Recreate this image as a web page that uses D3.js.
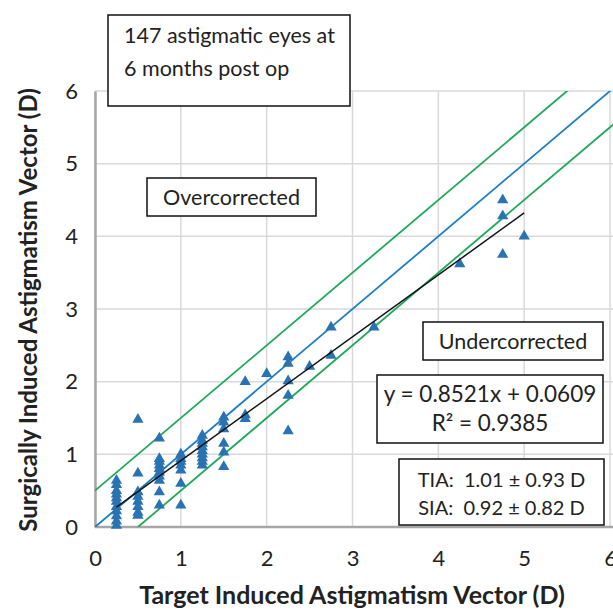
<!DOCTYPE html>
<html>
<head>
<meta charset="utf-8">
<script src="https://cdn.jsdelivr.net/npm/d3@7"></script>
<style>
  body { margin: 0; background: #fff; }
  text { font-family: Lato, "Open Sans", sans-serif; white-space: pre; }
</style>
</head>
<body>
<div id="chart"></div>
<script>
// TIA (x) and SIA (y) per eye
var tia = [
  0.25,0.25,0.25,0.25,0.25,0.25,0.25,0.25,0.25,0.25,0.25,
  0.5,0.5,0.5,0.5,0.5,0.5,0.5,0.5,
  0.75,0.75,0.75,0.75,0.75,0.75,0.75,0.75,0.75,0.75,
  1,1,1,1,1,1,1,
  1.25,1.25,1.25,1.25,1.25,1.25,1.25,1.25,1.25,
  1.5,1.5,1.5,1.5,1.5,1.5,
  1.75,1.75,1.75,
  2,
  2.25,2.25,2.25,2.25,2.25,
  2.5,
  2.75,2.75,
  3.25,
  4.25,
  4.75,4.75,4.75,
  5
];
var sia = [
  0.64,0.58,0.5,0.45,0.4,0.35,0.28,0.22,0.15,0.08,0.02,
  1.48,0.74,0.48,0.42,0.35,0.28,0.2,0.16,
  1.22,0.94,0.9,0.85,0.8,0.75,0.7,0.64,0.48,0.3,
  1.0,0.94,0.9,0.85,0.78,0.6,0.3,
  1.26,1.19,1.15,1.1,1.05,1.0,0.95,0.9,0.85,
  1.51,1.44,1.35,1.15,1.03,0.83,
  2.0,1.54,1.49,
  2.11,
  2.34,2.25,2.01,1.81,1.32,
  2.21,
  2.75,2.36,
  2.75,
  3.62,
  4.5,4.28,3.75,
  4.0
];
var ticks = [0, 1, 2, 3, 4, 5, 6];
var slope = 0.8521, intercept = 0.0609;
var fitRange = [0.25, 5];
var band = 0.5;

var W = 613, H = 611;
var svg = d3.select("#chart").append("svg")
    .attr("width", W).attr("height", H);

var xScale = d3.scaleLinear().domain([0, 6]).range([95, 610]);
var yScale = d3.scaleLinear().domain([0, 6]).range([527, 91]);

// grid
svg.append("g").selectAll("line").data(ticks).enter().append("line")
   .attr("x1", function(d) { return xScale(d); })
   .attr("x2", function(d) { return xScale(d); })
   .attr("y1", yScale(0)).attr("y2", yScale(6))
   .attr("stroke", "#d9d9d9").attr("stroke-width", 1.5);
svg.append("g").selectAll("line").data(ticks).enter().append("line")
   .attr("y1", function(d) { return yScale(d); })
   .attr("y2", function(d) { return yScale(d); })
   .attr("x1", xScale(0)).attr("x2", W)
   .attr("stroke", "#d9d9d9").attr("stroke-width", 1.5);

// axes
var xAxis = svg.append("g")
   .attr("transform", "translate(0," + yScale(0) + ")")
   .call(d3.axisBottom(xScale).tickValues(ticks).tickFormat(d3.format("d")).tickSize(0).tickPadding(23));
var yAxis = svg.append("g")
   .attr("transform", "translate(" + xScale(0) + ",0)")
   .call(d3.axisLeft(yScale).tickValues(ticks).tickFormat(d3.format("d")).tickSize(0).tickPadding(17));
[xAxis, yAxis].forEach(function(a) {
  a.select(".domain").attr("stroke", "#a6a6a6").attr("stroke-width", 2.5);
  a.selectAll("text").style("font-size", "22px").attr("fill", "#222")
   .style("font-family", "Lato, sans-serif");
});
xAxis.select(".domain").attr("d", "M" + xScale(0) + ",0H" + W);

// reference lines: y = x, y = x +/- 0.5
var line = d3.line().x(function(d) { return xScale(d[0]); }).y(function(d) { return yScale(d[1]); });
svg.append("clipPath").attr("id", "plot").append("rect")
   .attr("x", xScale(0)).attr("y", yScale(6)).attr("width", W - xScale(0)).attr("height", yScale(0) - yScale(6));
var lines = svg.append("g").attr("clip-path", "url(#plot)");
lines.append("path").attr("d", line([[0, 0], [7, 7]]))
   .attr("stroke", "#1a7fc8").attr("stroke-width", 1.8).attr("fill", "none");
lines.append("path").attr("d", line([[0, band], [7, 7 + band]]))
   .attr("stroke", "#1ea95a").attr("stroke-width", 1.8).attr("fill", "none");
lines.append("path").attr("d", line([[band, 0], [7.5, 7]]))
   .attr("stroke", "#1ea95a").attr("stroke-width", 1.8).attr("fill", "none");

// points
var tri = d3.symbol().type(d3.symbolTriangle).size(55);
svg.append("g").selectAll("path").data(tia).enter().append("path")
   .attr("d", tri)
   .attr("transform", function(d, i) { return "translate(" + xScale(d) + "," + yScale(sia[i]) + ")"; })
   .attr("fill", "#2a73b3");

// linear fit
svg.append("path")
   .attr("d", line(fitRange.map(function(x) { return [x, slope * x + intercept]; })))
   .attr("stroke", "#111").attr("stroke-width", 1.5).attr("fill", "none");

// text boxes
function box(x, y, w, h, rows, size, lh, ty) {
  svg.append("rect").attr("x", x).attr("y", y).attr("width", w).attr("height", h)
     .attr("fill", "#fff").attr("stroke", "#111").attr("stroke-width", 1.5);
  rows.forEach(function(t, i) {
    svg.append("text")
       .attr("x", t.anchor === "start" ? x + 16 : x + w / 2)
       .attr("y", y + ty + i * lh)
       .attr("text-anchor", t.anchor || "middle")
       .style("font-size", size + "px").attr("fill", "#222")
       .text(t.s);
  });
}
box(108, 15, 242, 91, [{s: "147 astigmatic eyes at", anchor: "start"}, {s: "6 months post op", anchor: "start"}], 21.5, 33, 28);
box(147, 178, 169, 38, [{s: "Overcorrected"}], 21.5, 0, 27);
box(423, 322, 180, 38, [{s: "Undercorrected"}], 21.5, 0, 27);
box(377, 375, 226, 68, [{s: "y = 0.8521x + 0.0609"}, {s: "R² = 0.9385"}], 22.5, 29, 27);
box(399, 459, 205, 66, [{s: "TIA:  1.01 ± 0.93 D"}, {s: "SIA:  0.92 ± 0.82 D"}], 20, 28, 28);

// axis titles
svg.append("text")
   .attr("x", 352).attr("y", 604)
   .attr("text-anchor", "middle")
   .style("font-size", "25px").style("font-weight", "bold").attr("fill", "#222")
   .text("Target Induced Astigmatism Vector (D)");
svg.append("text")
   .attr("transform", "translate(37," + 310 + ") rotate(-90)")
   .attr("text-anchor", "middle")
   .style("font-size", "24px").style("font-weight", "bold").attr("fill", "#222")
   .text("Surgically Induced Astigmatism Vector (D)");
</script>
</body>
</html>
